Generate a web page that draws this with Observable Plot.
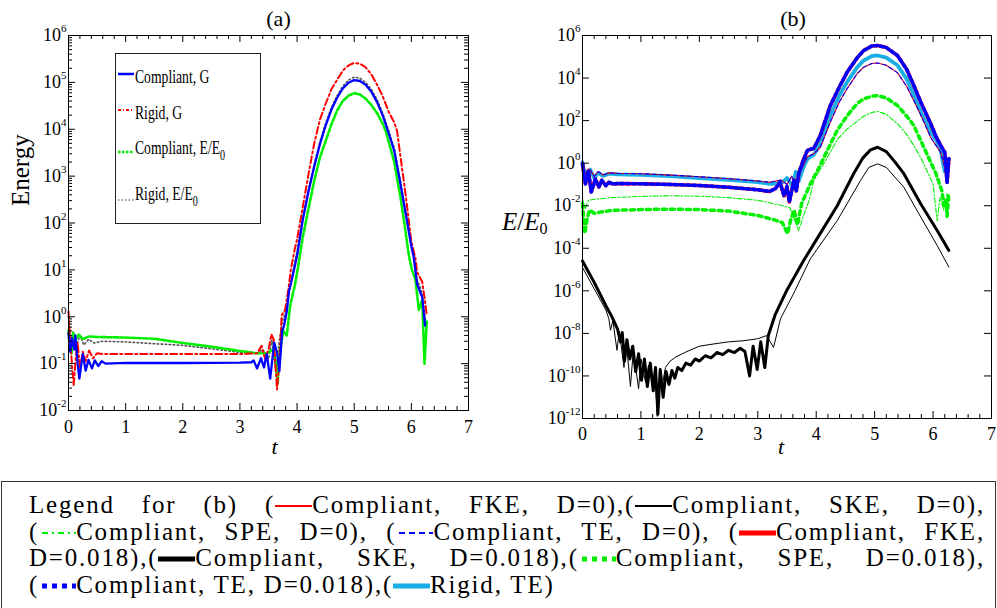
<!DOCTYPE html>
<html><head><meta charset="utf-8">
<script src="https://cdn.jsdelivr.net/npm/d3@7"></script>
<script src="https://cdn.jsdelivr.net/npm/@observablehq/plot@0.6"></script>
<style>
body{margin:0;background:#fff;}
#fig{position:relative;width:997px;height:608px;overflow:hidden;background:#fff;font-family:"Liberation Serif",serif;color:#000;}
#pa{position:absolute;left:0;top:0;}
#pb{position:absolute;left:500px;top:0;}
#legA{position:absolute;left:115px;top:53px;width:146px;height:171px;box-sizing:border-box;border:1.3px solid #222;background:#fff;}
#legA .la{position:absolute;left:19px;font-size:19px;line-height:20px;white-space:nowrap;transform:scaleX(0.72);transform-origin:0 50%;}
#legA .sub{position:relative;top:6px;font-size:14px;}
#ylabB{position:absolute;left:502px;top:209px;font-size:25px;line-height:25px;white-space:nowrap;}
#ylabB sub{font-size:16px;vertical-align:-4px;font-style:normal;}
#legB{position:absolute;left:1px;top:481px;width:995px;height:140px;box-sizing:border-box;border:1.5px solid #333;background:#fff;}
#legB .txt{position:absolute;left:27px;top:10px;width:956px;font-family:"Liberation Serif",serif;font-size:25px;line-height:26.7px;letter-spacing:1.8px;}
#legB .ln{text-align:justify;text-align-last:justify;white-space:nowrap;}
#legB .ln.last{text-align:left;text-align-last:left;}
#legB svg{display:inline-block;vertical-align:2px;}
</style></head><body>
<div id="fig">
  <div id="pa"></div>
  <div id="pb"></div>
  <div id="legA"></div>
  <div id="ylabB"><i>E</i>/<i>E</i><sub>0</sub></div>
  <div id="legB"><div class="txt"></div></div>
</div>
<script>
// ---------- Panel (a): [t, value] ----------
const compliantG = [[0,4.4e-1],[0.03,1.8e-1],[0.06,3.5e-1],[0.1,2.0e-1],[0.12,4.0e-1],[0.16,1.0e-1],[0.19,4.8e-2],[0.25,1.6e-1],[0.3,7.1e-2],[0.35,1.2e-1],[0.41,7.9e-2],[0.46,1.17e-1],[0.52,8.9e-2],[0.58,1.12e-1],[0.65,1.0e-1],[1.0,1.04e-1],[2.0,1.03e-1],[3.0,1.05e-1],[3.2,1.07e-1],[3.24,1.17e-1],[3.3,7.9e-2],[3.37,1.3e-1],[3.42,8.3e-2],[3.47,1.6e-1],[3.53,4.8e-2],[3.6,2.8e-1],[3.65,1.7e-1],[3.69,6.9e-2],[3.74,5.0e-1],[3.77,6.3e-1],[3.82,1.3],[3.86,3.6],[3.9,5.6],[4.0,20],[4.1,1.17e2],[4.2,4.7e2],[4.3,1.6e3],[4.4,4.8e3],[4.5,1.2e4],[4.6,2.6e4],[4.7,4.7e4],[4.8,7.4e4],[4.9,9.8e4],[5.0,1.12e5],[5.1,1.07e5],[5.2,8.9e4],[5.3,6.3e4],[5.4,3.8e4],[5.5,1.95e4],[5.6,8.5e3],[5.7,3.5e3],[5.8,7.9e2],[5.9,1.6e2],[6.0,32],[6.04,19],[6.1,5.0],[6.19,2.6],[6.24,6.5e-1]];
const rigidG = [[0,1.3],[0.03,3.2e-1],[0.06,1.0e-1],[0.09,3.4e-2],[0.13,1.4e-1],[0.16,2.8e-1],[0.2,7.9e-2],[0.25,1.8e-1],[0.3,1.12e-1],[0.36,1.9e-1],[0.43,1.3e-1],[0.5,1.66e-1],[0.6,1.6e-1],[1.0,1.6e-1],[2.0,1.6e-1],[3.0,1.6e-1],[3.3,1.66e-1],[3.38,2.4e-1],[3.44,1.26e-1],[3.5,2.0e-1],[3.55,4.2e-1],[3.59,3.3e-1],[3.65,2.8e-2],[3.7,1.7e-1],[3.73,1.07],[3.79,1.4],[3.85,4.0],[3.89,10],[3.96,28],[4.0,45],[4.1,2.2e2],[4.2,1.1e3],[4.3,5.0e3],[4.4,1.6e4],[4.5,3.5e4],[4.6,7.1e4],[4.7,1.12e5],[4.8,1.78e5],[4.9,2.3e5],[5.0,2.6e5],[5.1,2.5e5],[5.2,2.1e5],[5.3,1.48e5],[5.4,8.9e4],[5.5,5.0e4],[5.6,2.4e4],[5.7,1.4e4],[5.75,9.3e3],[5.8,3.2e3],[5.9,4.0e2],[6.0,40],[6.07,18],[6.1,8.9],[6.19,5.6],[6.25,1.74],[6.27,1.07]];
const compliantE = [[0,5.0e-1],[0.02,2.5e-1],[0.05,1.6e-1],[0.08,4.5e-1],[0.12,3.2e-1],[0.18,4.2e-1],[0.25,3.3e-1],[0.35,3.8e-1],[0.5,3.7e-1],[1.0,3.6e-1],[1.5,3.4e-1],[2.0,2.75e-1],[2.5,2.3e-1],[3.0,1.86e-1],[3.3,1.66e-1],[3.47,1.66e-1],[3.58,2.0e-1],[3.63,1.12e-1],[3.66,3.8e-2],[3.7,2.0e-1],[3.76,5.0e-1],[3.82,4.0e-1],[3.88,1.74],[3.96,4.6],[4.02,12],[4.1,50],[4.2,2.0e2],[4.3,7.9e2],[4.4,2.5e3],[4.5,5.6e3],[4.6,1.26e4],[4.7,2.5e4],[4.8,4.0e4],[4.9,5.2e4],[5.0,5.9e4],[5.1,5.5e4],[5.2,4.5e4],[5.3,3.3e4],[5.4,2.2e4],[5.5,1.3e4],[5.55,9.3e3],[5.6,5.6e3],[5.7,2.0e3],[5.81,3.5e2],[5.9,63],[5.96,19],[6.01,10],[6.07,6.3],[6.13,1.4],[6.19,2.3],[6.23,1.0e-1],[6.27,7.9e-1]];
const rigidE = [[0,1.0],[0.04,2.5e-1],[0.08,5.0e-1],[0.13,2.2e-1],[0.2,4.0e-1],[0.27,2.5e-1],[0.35,3.3e-1],[0.45,2.75e-1],[0.6,3.0e-1],[1.0,2.9e-1],[2.0,2.45e-1],[3.0,1.74e-1],[3.3,1.66e-1],[3.4,2.0e-1],[3.5,1.26e-1],[3.56,3.2e-1],[3.63,6.3e-2],[3.68,2.5e-1],[3.74,7.9e-1],[3.8,1.26],[3.87,4.0],[3.95,12.6],[4.0,25],[4.1,1.3e2],[4.2,5.2e2],[4.3,1.8e3],[4.4,5.4e3],[4.5,1.35e4],[4.6,2.9e4],[4.7,5.2e4],[4.8,8.3e4],[4.9,1.12e5],[5.0,1.29e5],[5.1,1.23e5],[5.2,1.0e5],[5.3,7.1e4],[5.4,4.3e4],[5.5,2.2e4],[5.6,9.5e3],[5.7,4.0e3],[5.8,8.9e2],[5.9,1.8e2],[6.0,35],[6.05,18],[6.1,6.3],[6.19,3.2],[6.25,7.9e-1]];

// ---------- Panel (b): [t, value] ----------
const fkeD0 = [[0,1.26],[0.04,3.2e-1],[0.08,1.8e-1],[0.13,5.0e-1],[0.2,2.4e-1],[0.27,4.0e-1],[0.35,2.8e-1],[0.45,3.5e-1],[0.6,3.3e-1],[1.0,3.2e-1],[1.5,2.75e-1],[2.0,2.3e-1],[2.5,1.86e-1],[3.0,1.45e-1],[3.2,1.26e-1],[3.4,1.6e-1],[3.5,1.0e-1],[3.58,2.5e-1],[3.64,6.3e-2],[3.7,2.8e-1],[3.78,7.9e-1],[3.85,2.0],[3.96,2.8],[4.07,5.6],[4.24,83],[4.4,7.9e2],[4.53,3.2e3],[4.7,1.6e4],[4.81,3.2e4],[4.95,4.8e4],[5.05,5.1e4],[5.2,4.0e4],[5.39,1.8e4],[5.55,4.0e3],[5.67,8.9e2],[5.8,1.6e2],[5.96,16],[6.05,6.8],[6.13,3.2],[6.2,6.3e-1],[6.24,1.0],[6.27,1.26]];
const teD0 = fkeD0; // overlaps FKE, D=0 in the picture
const skeD0 = [[0,1.26e-5],[0.1,4.0e-6],[0.2,1.26e-6],[0.3,4.0e-7],[0.4,1.26e-7],[0.45,5.0e-8],[0.48,1.4e-8],[0.52,4.0e-8],[0.59,1.6e-9],[0.63,1.26e-8],[0.71,2.5e-10],[0.75,4.0e-9],[0.82,3.2e-11],[0.87,1.6e-9],[0.96,2.5e-11],[1.0,6.3e-10],[1.08,5.0e-11],[1.13,3.2e-10],[1.2,4.0e-11],[1.24,2.0e-10],[1.28,1.26e-12],[1.32,1.26e-10],[1.36,3.2e-11],[1.42,2.5e-10],[1.5,5.0e-10],[1.6,7.9e-10],[1.75,1.26e-9],[2.0,2.5e-9],[2.25,3.2e-9],[2.5,4.0e-9],[2.75,4.5e-9],[3.0,5.6e-9],[3.15,7.9e-9],[3.27,2.2e-9],[3.39,5.0e-8],[3.6,6.3e-7],[3.9,3.2e-5],[4.36,2.0e-3],[4.76,1.55e-1],[4.9,6.3e-1],[5.05,9.3e-1],[5.2,6.3e-1],[5.5,7.4e-2],[5.79,2.9e-3],[6.07,1.35e-4],[6.27,1.3e-5]];
const speD0 = [[0,2.0e-2],[0.05,7.1e-3],[0.1,1.8e-2],[0.2,2.0e-2],[0.5,2.4e-2],[1.0,2.75e-2],[1.5,2.95e-2],[2.0,2.8e-2],[2.5,2.4e-2],[3.0,1.8e-2],[3.4,1.05e-2],[3.55,7.9e-3],[3.62,2.5e-3],[3.7,6.8e-4],[3.79,4.0e-3],[3.88,1.8e-2],[3.96,1.6e-1],[4.07,5.0e-1],[4.24,3.2],[4.36,12.6],[4.53,40],[4.81,1.6e2],[4.95,2.4e2],[5.05,2.7e2],[5.2,2.0e2],[5.39,71],[5.55,22],[5.67,6.8],[5.8,1.58],[5.96,1.8e-1],[6.0,1.0e-1],[6.07,2.0e-3],[6.12,2.5e-2],[6.18,6.3e-3],[6.24,3.6e-2],[6.27,3.2e-2]];
const fkeD018 = [[0,9.3e-1],[0.05,1.07e-1],[0.1,4.5e-1],[0.15,4.4e-2],[0.22,1.8e-1],[0.28,7.6e-2],[0.33,1.55e-1],[0.4,8.9e-2],[0.45,1.26e-1],[0.52,1.05e-1],[0.6,1.1e-1],[1.0,1.07e-1],[1.5,1.0e-1],[2.0,8.9e-2],[2.5,7.4e-2],[3.0,5.6e-2],[3.2,4.7e-2],[3.3,6.3e-2],[3.38,1.26e-1],[3.45,2.9e-2],[3.5,7.9e-2],[3.54,1.5e-2],[3.62,1.6e-1],[3.66,5.0e-2],[3.7,3.2e-1],[3.78,1.4],[3.85,4.0],[3.96,5.0],[4.07,20],[4.24,5.0e2],[4.4,4.0e3],[4.53,1.9e4],[4.7,8.9e4],[4.81,1.95e5],[4.95,3.2e5],[5.05,3.4e5],[5.2,2.7e5],[5.39,1.15e5],[5.55,2.5e4],[5.67,4.5e3],[5.8,6.3e2],[5.96,71],[6.05,18],[6.13,6.8],[6.2,3.2],[6.24,1.26e-1],[6.27,1.6]];
const teD018 = fkeD018; // overlaps FKE, D=0.018 in the picture
const skeD018 = [[0,2.5e-5],[0.1,7.9e-6],[0.2,2.5e-6],[0.3,7.1e-7],[0.4,2.0e-7],[0.5,6.3e-8],[0.55,3.2e-8],[0.6,1.6e-8],[0.65,4.0e-9],[0.68,1.1e-8],[0.72,5.0e-10],[0.76,5.0e-9],[0.81,6.3e-10],[0.86,2.5e-9],[0.91,1.6e-10],[0.96,1.1e-9],[1.01,6.3e-11],[1.06,6.3e-10],[1.11,3.2e-11],[1.16,4.0e-10],[1.21,2.0e-11],[1.25,2.5e-10],[1.29,1.6e-12],[1.33,2.0e-10],[1.38,1.0e-11],[1.43,1.6e-10],[1.48,4.0e-11],[1.53,1.8e-10],[1.58,7.9e-11],[1.63,2.5e-10],[1.7,1.8e-10],[1.77,4.0e-10],[1.85,3.2e-10],[1.93,6.3e-10],[2.0,5.0e-10],[2.1,8.9e-10],[2.2,7.1e-10],[2.3,1.26e-9],[2.4,1.0e-9],[2.5,1.6e-9],[2.6,1.26e-9],[2.7,2.0e-9],[2.78,1.4e-9],[2.86,1.0e-10],[2.92,2.5e-9],[2.99,2.0e-10],[3.05,4.0e-9],[3.12,2.5e-10],[3.18,7.9e-9],[3.3,7.9e-8],[3.5,1.1e-6],[3.79,2.8e-5],[4.07,5.0e-4],[4.36,1.0e-2],[4.64,3.2e-1],[4.8,1.78],[4.93,4.2],[5.05,5.6],[5.2,3.5],[5.35,1.12],[5.5,3.2e-1],[5.79,1.2e-2],[6.07,6.9e-4],[6.27,7.9e-5]];
const speD018 = [[0,1.26e-2],[0.04,5.0e-4],[0.08,2.5e-3],[0.12,6.3e-3],[0.2,4.4e-3],[0.3,5.0e-3],[0.5,6.0e-3],[1.0,6.6e-3],[1.5,6.9e-3],[2.0,6.6e-3],[2.5,5.6e-3],[3.0,3.5e-3],[3.3,2.1e-3],[3.42,1.6e-3],[3.51,4.8e-4],[3.56,2.0e-3],[3.62,6.3e-3],[3.68,1.26e-3],[3.75,1.26e-2],[3.9,1.07e-1],[4.05,6.3e-1],[4.19,4.0],[4.36,35],[4.53,1.7e2],[4.7,6.3e2],[4.81,1.05e3],[4.95,1.4e3],[5.05,1.5e3],[5.2,1.17e3],[5.39,5.1e2],[5.55,1.6e2],[5.67,59],[5.8,10],[5.96,1.1],[6.05,3.2e-1],[6.1,1.26e-1],[6.15,5.0e-2],[6.19,1.0e-2],[6.22,1.74e-2],[6.24,3.2e-3],[6.27,4.0e-2]];
const rigidTE = [[0,1.12],[0.04,2.5e-1],[0.08,1.4e-1],[0.13,5.0e-1],[0.2,2.0e-1],[0.27,3.5e-1],[0.35,2.5e-1],[0.45,3.2e-1],[0.6,3.0e-1],[1.0,2.8e-1],[1.5,2.45e-1],[2.0,2.0e-1],[2.5,1.66e-1],[3.0,1.3e-1],[3.2,1.07e-1],[3.4,1.12e-1],[3.5,2.0e-1],[3.6,7.9e-2],[3.65,4.0e-1],[3.7,1.4e-1],[3.78,6.3e-1],[3.85,1.6],[3.96,2.5],[4.07,7.9],[4.24,1.7e2],[4.4,1.6e3],[4.53,6.6e3],[4.7,3.2e4],[4.81,6.6e4],[4.95,1.07e5],[5.05,1.15e5],[5.2,9.1e4],[5.39,4.0e4],[5.55,8.9e3],[5.67,1.6e3],[5.8,2.2e2],[5.96,28],[6.05,12.6],[6.13,4.0],[6.2,4.0e-1],[6.24,1.3],[6.27,1.6]];

// ---------- axes ----------
const xTicks = [0,1,2,3,4,5,6,7];
const aYTicks = [1e-2,1e-1,1e0,1e1,1e2,1e3,1e4,1e5,1e6];
const bYTicks = [1e-12,1e-10,1e-8,1e-6,1e-4,1e-2,1e0,1e2,1e4,1e6];
const xMinor = d3.range(0, 7.001, 0.2).filter(v => Math.abs(v - Math.round(v)) > 1e-6);
const aYMinor = aYTicks.slice(0, -1).flatMap(p => d3.range(2, 10).map(m => m * p));

const BLUE = "#0000ff", RED = "#ff0000", GREEN = "#00ee00", CYAN = "#1aaee6";
const expFmt = d => "10^" + Math.round(Math.log10(d));
const NS = "http://www.w3.org/2000/svg";

function frameTicks(xs, ys, fw, fh, big, small, yMinor) {
  const m = [
    Plot.tickX(xs, {x: d => d, insetTop: fh - big, stroke: "black"}),
    Plot.tickX(xs, {x: d => d, insetBottom: fh - big, stroke: "black"}),
    Plot.tickX(xMinor, {x: d => d, insetTop: fh - small, stroke: "black"}),
    Plot.tickX(xMinor, {x: d => d, insetBottom: fh - small, stroke: "black"}),
    Plot.tickY(ys, {y: d => d, insetRight: fw - big, stroke: "black"}),
    Plot.tickY(ys, {y: d => d, insetLeft: fw - big, stroke: "black"})
  ];
  if (yMinor) {
    m.push(Plot.tickY(yMinor, {y: d => d, insetRight: fw - small, stroke: "black"}));
    m.push(Plot.tickY(yMinor, {y: d => d, insetLeft: fw - small, stroke: "black"}));
  }
  return m;
}

function supTicks(svg) {
  svg.querySelectorAll('g[aria-label="y-axis tick label"] text').forEach(t => {
    const s = t.textContent;
    if (!s.includes("^")) return;
    const [base, exp] = s.split("^");
    t.textContent = "";
    const a = document.createElementNS(NS, "tspan"); a.textContent = base;
    const b = document.createElementNS(NS, "tspan");
    b.setAttribute("dy", "-9"); b.setAttribute("font-size", "11"); b.textContent = exp;
    t.append(a, b);
  });
}

const line = (data, o) => Plot.line(data, {x: d => d[0], y: d => d[1], ...o});

// Panel (a)
const A = {w: 500, h: 460, ml: 68, mr: 32, mt: 35, mb: 50};
const fwA = A.w - A.ml - A.mr, fhA = A.h - A.mt - A.mb;
const plotA = Plot.plot({
  width: A.w, height: A.h, marginLeft: A.ml, marginRight: A.mr, marginTop: A.mt, marginBottom: A.mb,
  x: {domain: [0, 7]},
  y: {type: "log", domain: [1e-2, 1e6]},
  style: {fontFamily: "Liberation Serif", fontSize: "18px", background: "transparent", color: "black", overflow: "visible"},
  marks: [
    line(rigidE, {stroke: "#555", strokeWidth: 1.6, strokeDasharray: "1.5,2.5"}),
    line(compliantE, {stroke: GREEN, strokeWidth: 2.6, strokeDasharray: "4,2"}),
    line(rigidG, {stroke: RED, strokeWidth: 2, strokeDasharray: "7,3,2,3"}),
    line(compliantG, {stroke: BLUE, strokeWidth: 2.3}),
    Plot.frame({stroke: "black", strokeWidth: 1}),
    ...frameTicks(xTicks, aYTicks, fwA, fhA, 7, 4, aYMinor),
    Plot.axisX(xTicks, {anchor: "bottom", tickSize: 0, tickPadding: 10, label: null, fontSize: 18}),
    Plot.axisY(aYTicks, {anchor: "left", tickSize: 0, tickPadding: 2, label: null, tickFormat: expFmt, fontSize: 18}),
    Plot.text(["(a)"], {frameAnchor: "top", dx: 10, dy: -25, fontSize: 22}),
    Plot.text(["t"], {frameAnchor: "bottom", dx: 6, dy: 43, fontSize: 22, fontStyle: "italic"}),
    Plot.text(["Energy"], {frameAnchor: "left", dx: -48, dy: -17, rotate: -90, fontSize: 25})
  ]
});
supTicks(plotA);
document.getElementById("pa").append(plotA);

// Panel (b)
const B = {w: 497, h: 460, ml: 82, mr: 6, mt: 35, mb: 42};
const fwB = B.w - B.ml - B.mr, fhB = B.h - B.mt - B.mb;
const plotB = Plot.plot({
  width: B.w, height: B.h, marginLeft: B.ml, marginRight: B.mr, marginTop: B.mt, marginBottom: B.mb,
  x: {domain: [0, 7]},
  y: {type: "log", domain: [1e-12, 1e6]},
  style: {fontFamily: "Liberation Serif", fontSize: "18px", background: "transparent", color: "black", overflow: "visible"},
  marks: [
    line(skeD0, {stroke: "black", strokeWidth: 1}),
    line(skeD018, {stroke: "black", strokeWidth: 3}),
    line(speD0, {stroke: GREEN, strokeWidth: 1.1, strokeDasharray: "5,2,1.5,2"}),
    line(speD018, {stroke: GREEN, strokeWidth: 3.5, strokeDasharray: "4,4"}),
    line(rigidTE, {stroke: CYAN, strokeWidth: 3.8}),
    line(fkeD0, {stroke: RED, strokeWidth: 1.1}),
    line(teD0, {stroke: BLUE, strokeWidth: 1.1, strokeDasharray: "4,3"}),
    line(fkeD018, {stroke: RED, strokeWidth: 3.6}),
    line(teD018, {stroke: BLUE, strokeWidth: 3.6, strokeDasharray: "3,3"}),
    Plot.frame({stroke: "black", strokeWidth: 1}),
    ...frameTicks(xTicks, bYTicks, fwB, fhB, 7, 4, null),
    Plot.axisX(xTicks, {anchor: "bottom", tickSize: 0, tickPadding: 9, label: null, fontSize: 18}),
    Plot.axisY(bYTicks, {anchor: "left", tickSize: 0, tickPadding: 2, label: null, tickFormat: expFmt, fontSize: 18}),
    Plot.text(["(b)"], {frameAnchor: "top", dx: 6, dy: -25, fontSize: 22}),
    Plot.text(["t"], {frameAnchor: "bottom", dx: -6, dy: 35, fontSize: 22, fontStyle: "italic"})
  ]
});
supTicks(plotB);
document.getElementById("pb").append(plotB);

// ---------- legend (a) ----------
const legendA = [
  {label: "Compliant, G", stroke: BLUE, w: 2.5, dash: null, ly: 20, ty: 13},
  {label: "Rigid, G", stroke: RED, w: 2, dash: "3,2,1,2", ly: 56, ty: 49},
  {label: "Compliant, E/E<span class='sub'>0</span>", stroke: GREEN, w: 2.6, dash: "2.5,1.5", ly: 98, ty: 84},
  {label: "Rigid, E/E<span class='sub'>0</span>", stroke: "#777", w: 1.6, dash: "1.5,2", ly: 146, ty: 130}
];
const legA = document.getElementById("legA");
let sv = `<svg width="144" height="170" style="position:absolute;left:0;top:0">`;
legendA.forEach(e => {
  sv += `<line x1="2" x2="18" y1="${e.ly}" y2="${e.ly}" stroke="${e.stroke}" stroke-width="${e.w}" ${e.dash ? `stroke-dasharray="${e.dash}"` : ""}/>`;
});
sv += `</svg>`;
legA.innerHTML = sv + legendA.map(e => `<div class="la" style="top:${e.ty}px">${e.label}</div>`).join("");

// ---------- legend (b) ----------
const sampleStyles = {
  fke0: {c: RED, w: 2, d: null},
  ske0: {c: "black", w: 2, d: null},
  spe0: {c: GREEN, w: 2, d: "6,4,2,4"},
  te0: {c: BLUE, w: 2, d: "6,4"},
  fke18: {c: RED, w: 5, d: null},
  ske18: {c: "black", w: 5, d: null},
  spe18: {c: GREEN, w: 5, d: "5,5"},
  te18: {c: BLUE, w: 5, d: "5,5"},
  rigid: {c: CYAN, w: 5, d: null}
};
const S = k => { const s = sampleStyles[k];
  return `<svg width="37" height="10"><line x1="${s.d ? 3 : 0}" x2="37" y1="5" y2="5" stroke="${s.c}" stroke-width="${s.w}" ${s.d ? `stroke-dasharray="${s.d}"` : ""}/></svg>`; };
const legendBLines = [
  `Legend for (b) (${S("fke0")}Compliant, FKE, D=0),(${S("ske0")}Compliant, SKE, D=0),`,
  `(${S("spe0")}Compliant, SPE, D=0), (${S("te0")}Compliant, TE, D=0), (${S("fke18")}Compliant, FKE,`,
  `D=0.018),(${S("ske18")}Compliant, SKE, D=0.018),(${S("spe18")}Compliant, SPE, D=0.018),`,
  `(${S("te18")}Compliant, TE, D=0.018),(${S("rigid")}Rigid, TE)`
];
document.querySelector("#legB .txt").innerHTML = legendBLines.map((l, i) =>
  `<div class="ln${i === legendBLines.length - 1 ? " last" : ""}">${l}</div>`).join("");
</script>
</body></html>
